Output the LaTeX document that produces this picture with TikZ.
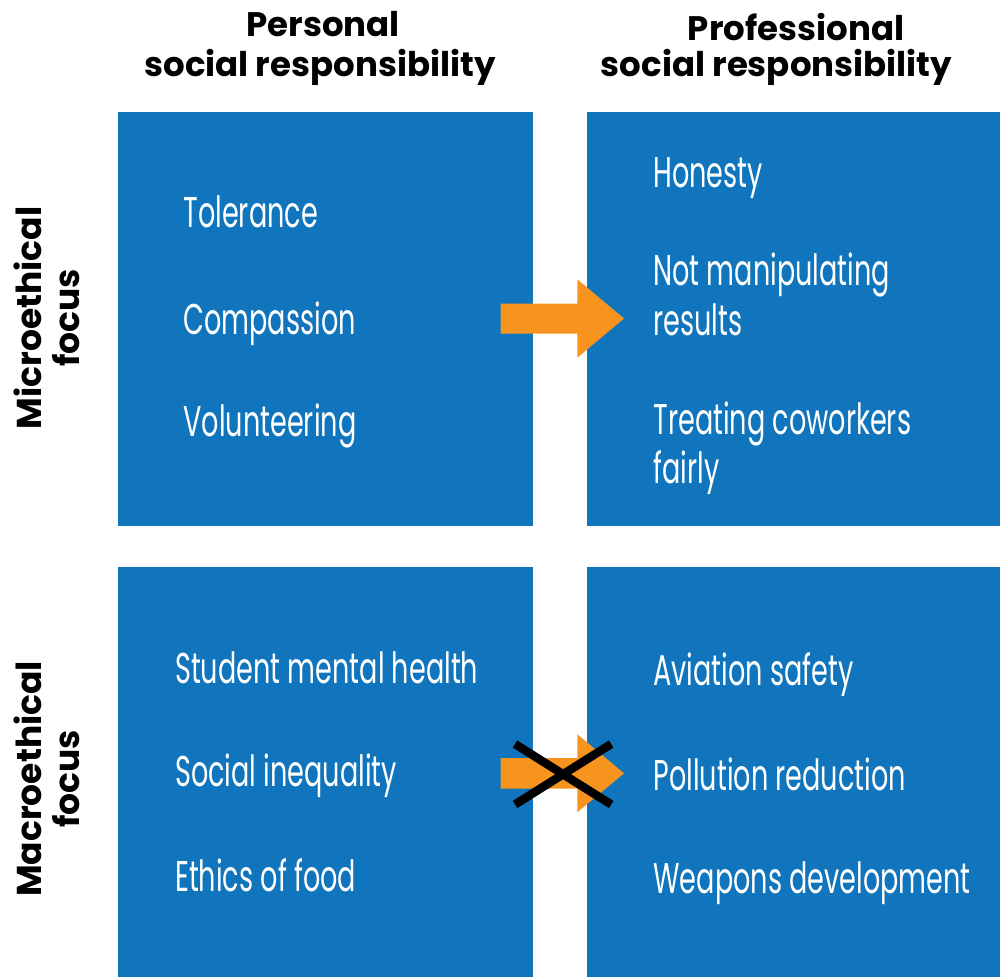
\documentclass[tikz,border=0pt]{standalone}
\usepackage{fontspec}
\newfontfamily\hdrfont{Poppins}
\newfontfamily\boxfont[FakeStretch=0.63]{Poppins}
\definecolor{qblue}{RGB}{16,117,188}
\definecolor{qorange}{RGB}{247,148,29}
\begin{document}
\begin{tikzpicture}[x=1pt,y=-1pt,
  quad/.style={fill=qblue,draw=none,inner sep=0},
  hdr/.style={font=\hdrfont\bfseries\fontsize{34}{40}\selectfont,anchor=base,inner sep=0},
  side/.style={font=\hdrfont\bfseries\fontsize{34.5}{38.3}\selectfont,align=center,rotate=90,inner sep=0},
  item/.style={font=\boxfont\fontsize{43}{49.3}\selectfont,text=white,anchor=base west,inner sep=0,align=left},
  blockarrow/.style={fill=qorange,draw=none},
  cross/.style={draw=black,line width=8.5pt}]
\useasboundingbox (0,0) rectangle (1000,977);
% quadrants
\node[quad,minimum width=414.5pt,minimum height=413.5pt,anchor=north west] (tl) at (118,112) {};
\node[quad,minimum width=413pt,minimum height=413.5pt,anchor=north west] (tr) at (587,112) {};
\node[quad,minimum width=414.5pt,minimum height=410.5pt,anchor=north west] (bl) at (118,566.5) {};
\node[quad,minimum width=413pt,minimum height=410.5pt,anchor=north west] (br) at (587,566.5) {};
% headers
\node[hdr] (h1a) at (323,36.7) {Personal};
\node[hdr] (h1b) at (320,76.3) {social responsibility};
\node[hdr] (h2a) at (796,40.7) {Professional};
\node[hdr] (h2b) at (776.5,76.5) {social responsibility};
% side labels
\node[side] (s1) at (47,318) {Microethical\\focus};
\node[side] (s2) at (47,779) {Macroethical\\focus};
% top-left items
\node[item] (t1) at (183.3,227.7) {Tolerance};
\node[item] (t2) at (183.3,334) {Compassion};
\node[item] (t3) at (183.3,436) {Volunteering};
% top-right items
\node[item] (r1) at (653.3,187.7) {Honesty};
\node[item] (r2) at (653.3,335) {Not manipulating\\results};
\node[item] (r3) at (653.3,483.3) {Treating coworkers\\fairly};
% bottom-left items
\node[item] (b1) at (175,683.3) {Student mental health};
\node[item] (b2) at (175,786.7) {Social inequality};
\node[item] (b3) at (175,891.7) {Ethics of food};
% bottom-right items
\node[item] (q1) at (653.3,685) {Aviation safety};
\node[item] (q2) at (653.3,790) {Pollution reduction};
\node[item] (q3) at (653.3,893.3) {Weapons development};
% arrows
\coordinate (a1) at (500.7,318.5);
\fill[blockarrow] (a1) ++(0,-15) -- ++(76.6,0) -- ++(0,-24.2) -- ++(46.7,39.2) -- ++(-46.7,39.2) -- ++(0,-24.2) -- ++(-76.6,0) -- cycle;
\coordinate (a2) at (500.7,773.3);
\fill[blockarrow] (a2) ++(0,-15.3) -- ++(76.6,0) -- ++(0,-23.7) -- ++(46.7,39) -- ++(-46.7,39) -- ++(0,-23.7) -- ++(-76.6,0) -- cycle;
% cross
\coordinate (x1) at (515,744);
\coordinate (x2) at (611.2,804.5);
\coordinate (x3) at (515,804.5);
\coordinate (x4) at (611.2,744);
\draw[cross] (x1) -- (x2);
\draw[cross] (x3) -- (x4);
\end{tikzpicture}
\end{document}
